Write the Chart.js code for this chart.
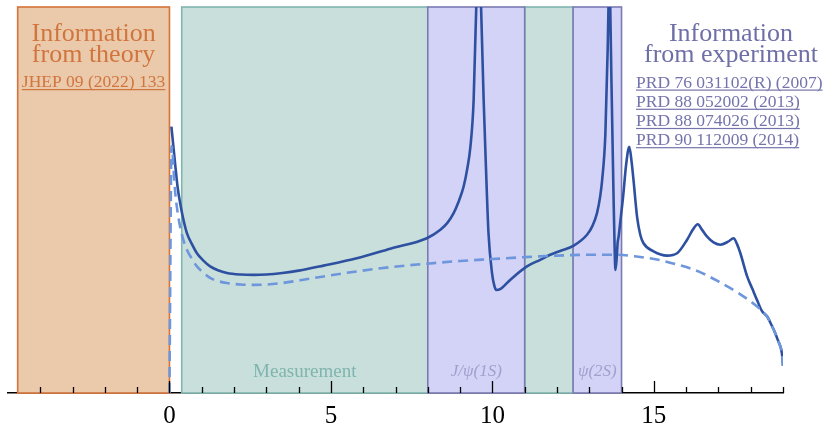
<!DOCTYPE html>
<html>
<head>
<meta charset="utf-8">
<script src="https://cdn.jsdelivr.net/npm/chart.js@4.4.1/dist/chart.umd.min.js"></script>
<style>
  html, body { margin: 0; padding: 0; background: #fff; }
  #wrap { width: 827px; height: 427px; }
</style>
</head>
<body>
<div id="wrap"><canvas id="grafico"></canvas></div>
<script>
// curva completa (linea continua)
const xCompleta = [0.06, 0.12, 0.18, 0.25, 0.33, 0.43, 0.54, 0.7, 0.85, 1.05,
  1.26, 1.5, 1.78, 2.2, 2.6, 3.0, 3.5, 4.0, 4.77, 5.8,
  6.84, 7.97, 8.39, 8.6, 8.8, 8.95, 9.11, 9.22, 9.32,
  9.42, 9.5, 9.575, 9.65, 9.73, 9.8, 9.88, 9.99, 10.06, 10.12,
  10.24, 10.55, 11.07, 11.48, 11.79, 12.1, 12.52, 12.93, 13.1, 13.24, 13.34,
  13.4, 13.5, 13.57, 13.6, 13.625, 13.65, 13.7, 13.75, 13.79, 13.81,
  13.85, 13.88, 13.91, 13.95, 14.05, 14.14, 14.24, 14.31, 14.37, 14.48,
  14.58, 14.68, 14.99, 15.41, 15.72, 16.03, 16.2, 16.36, 16.5, 16.65,
  16.85, 17.06, 17.3, 17.47, 17.58, 17.68, 17.89, 18.05, 18.2, 18.35,
  18.51, 18.65, 18.76, 18.85, 18.92, 18.97, 19.0];
const yCompleta = [6.9, 6.4, 5.9, 5.35, 4.92, 4.5, 4.14, 3.85, 3.62, 3.43,
  3.28, 3.18, 3.11, 3.07, 3.06, 3.07, 3.11, 3.17, 3.3, 3.49,
  3.74, 4.01, 4.23, 4.4, 4.66, 4.95, 5.35, 5.8, 6.38,
  7.59, 9.97, 13, 10.0, 7.59, 5.87, 4.14, 3.1, 2.78, 2.67,
  2.69, 2.93, 3.28, 3.45, 3.58, 3.68, 3.82, 4.1, 4.33, 4.66, 5.1,
  5.52, 6.73, 8.89, 10.2, 12, 10, 7.5, 5.2, 3.6, 3.19,
  3.5, 3.9, 4.05, 4.35, 5.1, 5.9, 6.38, 6.0, 5.52, 4.57,
  4.1, 3.88, 3.67, 3.56, 3.62, 3.97, 4.22, 4.37, 4.22, 4.05,
  3.9, 3.84, 3.92, 4.01, 3.85, 3.62, 3.02, 2.7, 2.4, 2.12,
  1.98, 1.75, 1.55, 1.35, 1.2, 1.0, 0.7];

// curva sin resonancias (linea discontinua)
const xBase = [0, 0.02, 0.04, 0.06, 0.09, 0.13, 0.18, 0.25, 0.33, 0.43,
  0.54, 0.7, 0.85, 1.05, 1.26, 1.5, 1.78, 2.2, 2.6, 3.0,
  3.5, 4.05, 4.77, 5.8, 6.84, 7.97, 9.0, 10.0, 11.0, 12.0,
  13.0, 13.9, 14.52, 15.14, 15.76, 16.38, 17.0, 17.62, 18.2, 18.35,
  18.51, 18.65, 18.76, 18.85, 18.92, 18.97, 19.0];
const yBase = [0, 2.4, 4.8, 6.4, 6.3, 5.75, 5.18, 4.7, 4.31, 3.97,
  3.71, 3.47, 3.28, 3.12, 2.98, 2.9, 2.85, 2.81, 2.8, 2.81,
  2.85, 2.92, 3.02, 3.15, 3.26, 3.35, 3.42, 3.47, 3.52, 3.56,
  3.58, 3.58, 3.53, 3.45, 3.32, 3.15, 2.89, 2.59, 2.24, 2.12,
  1.98, 1.75, 1.55, 1.35, 1.2, 1.0, 0.7];

// regiones sombreadas [desde, hasta]
const regionTeoria = [-4.7, 0];
const regionesMedida = [[0.38, 8], [11, 12.5]];
const regionesResonancia = [[8, 11], [12.5, 14]];
const nombresResonancia = ['J/\u03c8(1S)', '\u03c8(2S)'];

// eje x
const etiquetasX = [0, 5, 10, 15];

const refsTeoria = ['JHEP 09 (2022) 133'];
const refsExperimento = ['PRD 76 031102(R) (2007)', 'PRD 88 052002 (2013)',
  'PRD 88 074026 (2013)', 'PRD 90 112009 (2014)'];

const serif = '"Liberation Serif", "DejaVu Serif", serif';

function subrayado(ctx, texto, x, y, align) {
  ctx.textAlign = align;
  ctx.fillText(texto, x, y);
  const w = ctx.measureText(texto).width;
  const x0 = align === 'center' ? x - w / 2 : x;
  ctx.fillRect(x0, y + 2, w, 1.2);
}

const regiones = {
  id: 'regiones',
  beforeDatasetsDraw(chart) {
    const { ctx, scales: { x, y } } = chart;
    const arriba = y.getPixelForValue(10);
    const abajo = y.getPixelForValue(0);
    const caja = (r, relleno, borde) => {
      const x0 = x.getPixelForValue(r[0]);
      const x1 = x.getPixelForValue(r[1]);
      ctx.fillStyle = relleno;
      ctx.fillRect(x0, arriba, x1 - x0, abajo - arriba);
      ctx.strokeStyle = borde;
      ctx.lineWidth = 1.6;
      ctx.strokeRect(x0, arriba, x1 - x0, abajo - arriba);
    };
    ctx.save();
    caja(regionTeoria, '#ebc9ab', '#d5733a');
    regionesMedida.forEach(r => caja(r, '#c9dfdc', '#7fb5ae'));
    regionesResonancia.forEach(r => caja(r, '#d3d3f7', '#7b7bb3'));

    // textos
    const cx = x.getPixelForValue((regionTeoria[0] + regionTeoria[1]) / 2);
    ctx.fillStyle = '#d1753e';
    ctx.textAlign = 'center';
    ctx.font = '26px ' + serif;
    ctx.fillText('Information', cx, 40.5);
    ctx.fillText('from theory', cx, 62);
    ctx.font = '17.5px ' + serif;
    refsTeoria.forEach((t, i) => subrayado(ctx, t, cx, 87 + i * 19.2, 'center'));

    ctx.fillStyle = '#6f6fa8';
    ctx.font = '26px ' + serif;
    ctx.textAlign = 'center';
    ctx.fillText('Information', 731, 40.5);
    ctx.fillText('from experiment', 731, 62);
    ctx.fillStyle = '#7474ad';
    ctx.font = '17.5px ' + serif;
    refsExperimento.forEach((t, i) => subrayado(ctx, t, 636, 87.5 + i * 19.2, 'left'));

    ctx.fillStyle = '#7fb5ae';
    ctx.font = '19px ' + serif;
    ctx.textAlign = 'center';
    const m = regionesMedida[0];
    ctx.fillText('Measurement', x.getPixelForValue((m[0] + m[1]) / 2), 377);

    ctx.fillStyle = '#a0a0cc';
    ctx.font = 'italic 17px ' + serif;
    regionesResonancia.forEach((r, i) => {
      ctx.fillText(nombresResonancia[i], x.getPixelForValue((r[0] + r[1]) / 2), 376);
    });
    ctx.restore();
  }
};

// marcas del eje hacia dentro
const marcas = {
  id: 'marcas',
  afterDraw(chart) {
    const { ctx, scales: { x } } = chart;
    const base = x.top;
    ctx.save();
    ctx.strokeStyle = '#000';
    ctx.lineWidth = 1.3;
    for (let v = -4; v <= 19; v++) {
      const px = Math.round(x.getPixelForValue(v)) + 0.5;
      const largo = v % 5 === 0 ? 12 : 6;
      ctx.beginPath();
      ctx.moveTo(px, base);
      ctx.lineTo(px, base - largo);
      ctx.stroke();
    }
    ctx.restore();
  }
};

const puntos = (xs, ys) => xs.map((v, i) => ({ x: v, y: ys[i] }));

new Chart(document.getElementById('grafico'), {
  type: 'line',
  data: {
    datasets: [{
      data: puntos(xBase, yBase),
      borderColor: '#6e96dc',
      borderWidth: 2.6,
      borderDash: [10, 6],
      pointRadius: 0,
      cubicInterpolationMode: 'monotone'
    }, {
      data: puntos(xCompleta, yCompleta),
      borderColor: '#2e50a0',
      borderWidth: 2.6,
      pointRadius: 0,
      cubicInterpolationMode: 'monotone'
    }]
  },
  options: {
    responsive: true,
    maintainAspectRatio: false,
    animation: false,
    layout: { padding: { left: 7, right: 44, top: 7, bottom: -12 } },
    plugins: { legend: { display: false }, tooltip: { enabled: false } },
    scales: {
      x: {
        type: 'linear',
        min: -5,
        max: 19,
        grid: { display: false, drawTicks: false, tickLength: 0 },
        border: { display: true, color: '#000', width: 1.5 },
        ticks: {
          stepSize: 1,
          autoSkip: false,
          maxRotation: 0,
          padding: 8,
          color: '#000',
          font: { family: serif, size: 25 },
          callback: v => etiquetasX.includes(v) ? String(v) : ''
        }
      },
      y: { display: false, min: 0, max: 10 }
    }
  },
  plugins: [regiones, marcas]
});
</script>
</body>
</html>
